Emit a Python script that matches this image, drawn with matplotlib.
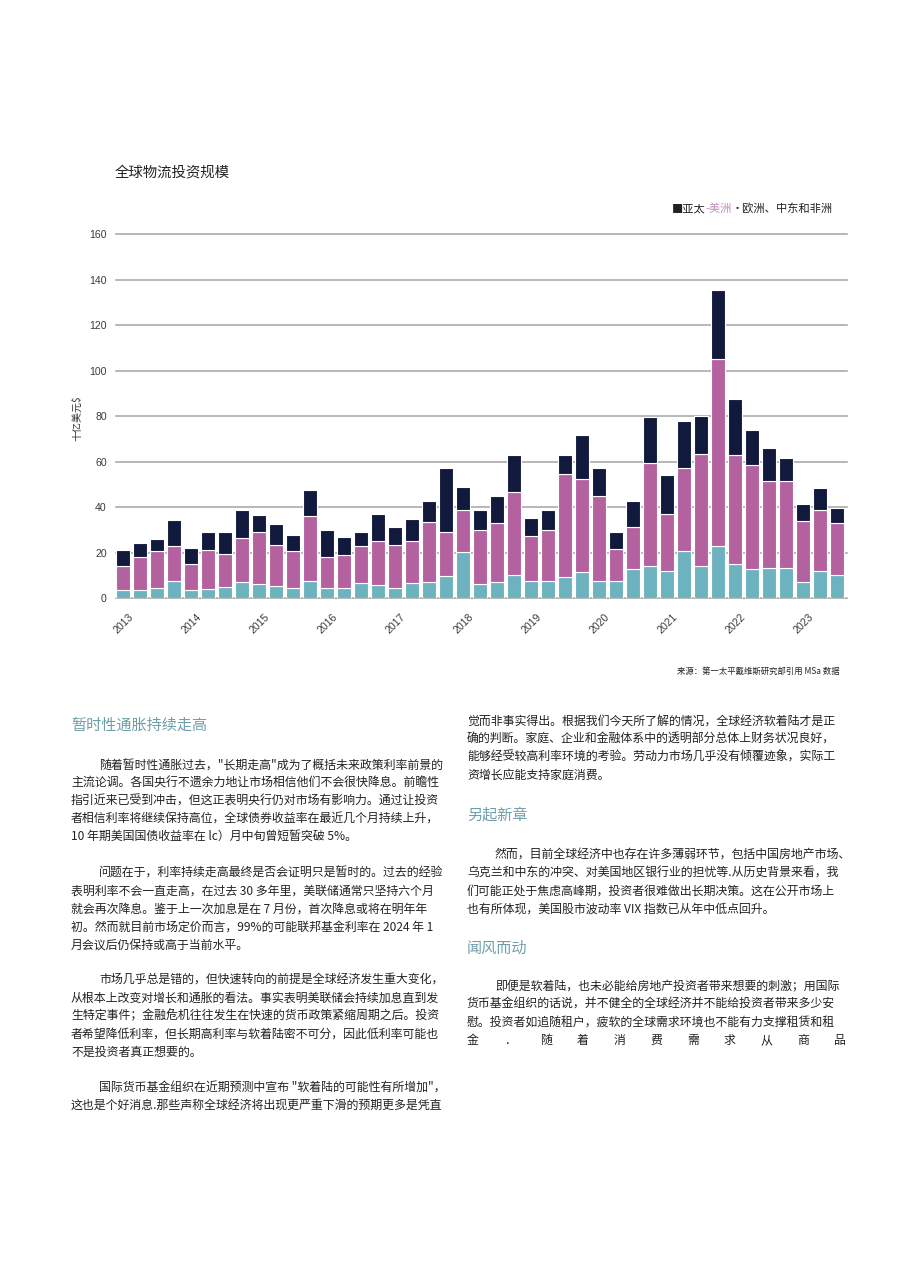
import numpy as np
import matplotlib
matplotlib.use("Agg")
import matplotlib.pyplot as plt

plt.rcParams['font.family'] = ['Noto Sans CJK SC', 'DejaVu Sans']

# quarterly values, 2013 Q1 .. 2023 Q3 (bn USD)
apac = [3.7, 3.7, 4.4, 7.3, 3.7, 4.0, 4.8, 7.0, 6.3, 5.1, 4.4, 7.3, 4.4, 4.4, 6.6,
        5.6, 4.4, 6.6, 7.0, 9.5, 20.2, 6.3, 6.9, 10.0, 7.3, 7.3, 9.2, 11.3, 7.6,
        7.6, 12.9, 13.9, 12.0, 20.8, 14.2, 22.7, 15.1, 12.9, 13.2, 13.2, 6.9,
        12.0, 10.3]
americas = [10.2, 14.2, 16.4, 15.4, 11.3, 17.3, 14.6, 19.4, 22.7, 18.4, 16.1, 28.6,
            13.5, 14.7, 16.4, 19.3, 18.8, 18.3, 26.3, 19.5, 18.7, 23.5, 26.1, 36.6,
            19.8, 22.5, 45.3, 41.2, 37.1, 14.1, 18.2, 45.5, 24.9, 36.4, 49.3, 82.6,
            47.9, 45.5, 38.4, 38.4, 27.1, 26.9, 22.7]
emea = [7.1, 6.3, 5.3, 11.8, 7.0, 7.6, 9.5, 12.2, 7.4, 9.2, 7.2, 11.5, 12.2, 7.7,
        6.0, 12.1, 8.0, 10.0, 9.2, 28.2, 9.8, 9.1, 11.7, 16.4, 8.1, 8.8, 8.5, 19.3,
        12.5, 7.3, 11.4, 20.2, 17.4, 20.8, 16.7, 30.3, 24.5, 15.5, 14.4, 10.0, 7.5,
        9.5, 6.6]
years = ['2013', '2014', '2015', '2016', '2017', '2018', '2019', '2020', '2021',
         '2022', '2023']
yticks = [0, 20, 40, 60, 80, 100, 120, 140, 160]

c_apac = '#6db2bf'
c_amer = '#b3629f'
c_emea = '#111a3d'
head_col = '#6e9fa9'
txt_col = '#222222'

W, H = 920, 1276
fig = plt.figure(figsize=(W / 100, H / 100), dpi=100)


def px(x, y):
    return x / W, 1 - y / H


# chart
ax = fig.add_axes([116.5 / W, 1 - 598 / H, (847 - 116.5) / W, (598 - 234.5) / H])
x = np.arange(len(apac))
a = np.array(apac)
b = np.array(americas)
c = np.array(emea)
ax.bar(x, a, width=0.82, color=c_apac, edgecolor='white', linewidth=0.8, zorder=3)
ax.bar(x, b, width=0.82, bottom=a, color=c_amer, edgecolor='white', linewidth=0.8, zorder=3)
ax.bar(x, c, width=0.82, bottom=a + b, color=c_emea, edgecolor='white', linewidth=0.8, zorder=3)
for v in yticks:
    ax.axhline(v, color='#a3a3a3', linewidth=1.1, zorder=0, clip_on=False)
ax.set_xlim(-0.41, len(apac) - 1 + 0.58)
ax.set_ylim(0, 160)
ax.set_yticks(yticks)
ax.set_yticklabels([str(v) for v in yticks], family='Liberation Sans', fontsize=7.6, color='#3a3a3a')
ax.set_xticks(np.arange(0, len(apac), 4))
ax.set_xticklabels(years, rotation=45, ha='center', family='Liberation Sans',
                   fontsize=7.6, color='#3a3a3a')
ax.tick_params(axis='y', length=0, pad=7)
ax.tick_params(axis='x', length=0, pad=10)
for s in ax.spines.values():
    s.set_visible(False)
fig.text(*px(77, 418), '十亿美元$', rotation=90, ha='center', va='center', fontsize=7.2, color='#333333')

fig.text(*px(115, 173), '全球物流投资规模', ha='left', va='center', fontsize=10.4, color=txt_col)

# legend line
t1 = fig.text(*px(672, 209), '■亚太', ha='left', va='center', fontsize=8.1, color=txt_col)
t2 = ax.annotate('-美洲', xy=(1, 0), xycoords=t1, ha='left', va='bottom', fontsize=8.1,
                 color='#c48fbb', annotation_clip=False)
ax.annotate('・欧洲、中东和非洲', xy=(1, 0), xycoords=t2, ha='left', va='bottom', fontsize=8.1,
            color=txt_col, annotation_clip=False)

fig.text(*px(840, 671), '来源：第一太平戴维斯研究部引用 MSa 数据', ha='right', va='center',
         fontsize=6, color=txt_col)

# article text
left_paras = [
    ['随着暂时性通胀过去，"长期走高"成为了概括未来政策利率前景的',
     '主流论调。各国央行不遗余力地让市场相信他们不会很快降息。前瞻性',
     '指引近来已受到冲击，但这正表明央行仍对市场有影响力。通过让投资',
     '者相信利率将继续保持高位，全球债券收益率在最近几个月持续上升，',
     '10 年期美国国债收益率在 lc）月中旬曾短暂突破 5%。'],
    ['问题在于，利率持续走高最终是否会证明只是暂时的。过去的经验',
     '表明利率不会一直走高，在过去 30 多年里，美联储通常只坚持六个月',
     '就会再次降息。鉴于上一次加息是在 7 月份，首次降息或将在明年年',
     '初。然而就目前市场定价而言，99%的可能联邦基金利率在 2024 年 1',
     '月会议后仍保持或高于当前水平。'],
    ['市场几乎总是错的，但快速转向的前提是全球经济发生重大变化，',
     '从根本上改变对增长和通胀的看法。事实表明美联储会持续加息直到发',
     '生特定事件；金融危机往往发生在快速的货币政策紧缩周期之后。投资',
     '者希望降低利率，但长期高利率与软着陆密不可分，因此低利率可能也',
     '不是投资者真正想要的。'],
    ['国际货币基金组织在近期预测中宣布 "软着陆的可能性有所增加"，',
     '这也是个好消息.那些声称全球经济将出现更严重下滑的预期更多是凭直'],
]
right_p1 = ['觉而非事实得出。根据我们今天所了解的情况，全球经济软着陆才是正',
            '确的判断。家庭、企业和金融体系中的透明部分总体上财务状况良好，',
            '能够经受较高利率环境的考验。劳动力市场几乎没有倾覆迹象，实际工',
            '资增长应能支持家庭消费。']
right_p2 = ['然而，目前全球经济中也存在许多薄弱环节，包括中国房地产市场、',
            '乌克兰和中东的冲突、对美国地区银行业的担忧等.从历史背景来看，我',
            '们可能正处于焦虑高峰期，投资者很难做出长期决策。这在公开市场上',
            '也有所体现，美国股市波动率 VIX 指数已从年中低点回升。']
right_p3 = ['即便是软着陆，也未必能给房地产投资者带来想要的刺激；用国际',
            '货币基金组织的话说，并不健全的全球经济并不能给投资者带来多少安',
            '慰。投资者如追随租户，疲软的全球需求环境也不能有力支撑租赁和租']
spread_line = ['金', '．', '随', '着', '消', '费', '需', '求', '从', '商', '品']

FS = 8.6
STEP = 17.9


def para(lines, x0, y0, indent=True):
    for i, ln in enumerate(lines):
        xx = x0 + (28 if (i == 0 and indent) else 0)
        fig.text(*px(xx, y0 + i * STEP), ln, ha='left', va='center', fontsize=FS, color=txt_col)


fig.text(*px(71, 725), '暂时性通胀持续走高', ha='left', va='center', fontsize=10.9, color=head_col)
y = 765.7
for p in left_paras:
    para(p, 71, y)
    y += (len(p) + 1) * STEP

para(right_p1, 467, 721.7, indent=False)
fig.text(*px(467, 815), '另起新章', ha='left', va='center', fontsize=10.9, color=head_col)
para(right_p2, 467, 855)
fig.text(*px(467, 948.3), '闻风而动', ha='left', va='center', fontsize=10.9, color=head_col)
para(right_p3, 467, 986.7)
for xx, ch in zip(np.linspace(467, 834, len(spread_line)), spread_line):
    fig.text(*px(xx, 986.7 + 3 * STEP), ch, ha='left', va='center', fontsize=FS, color=txt_col)

fig.savefig('out.png', dpi=100)
